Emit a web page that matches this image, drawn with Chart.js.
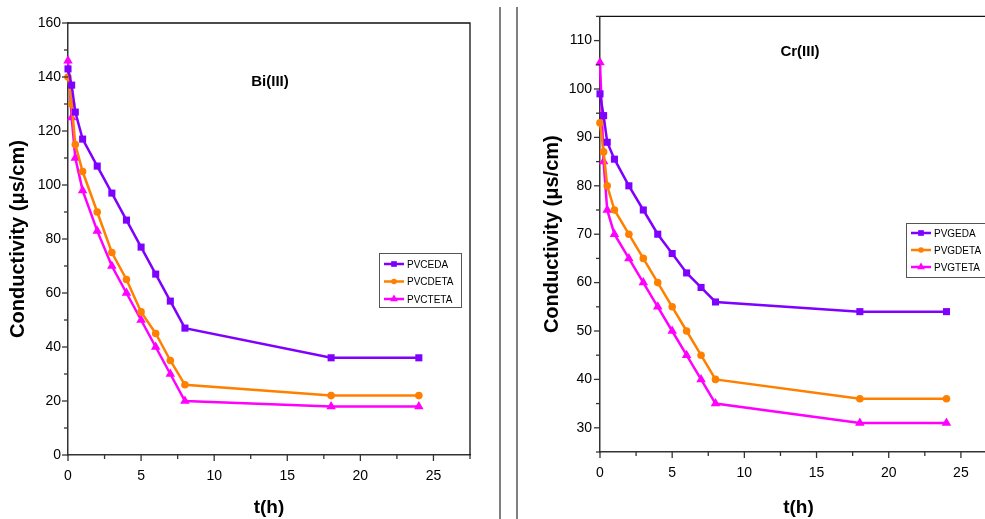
<!DOCTYPE html>
<html>
<head>
<meta charset="utf-8">
<script src="https://cdn.jsdelivr.net/npm/chart.js@4.4.0/dist/chart.umd.min.js"></script>
<style>
  html, body { margin: 0; padding: 0; background: #fff; overflow: hidden; }
  body { width: 985px; height: 519px; position: relative; }
  canvas { position: absolute; top: 0; }
  #left { left: 0; }
  #right { left: 520px; }
  .sep { position: absolute; top: 7px; width: 2px; height: 512px; background: #808080; }
</style>
</head>
<body>
<canvas id="left" width="495" height="519"></canvas>
<canvas id="right" width="490" height="519"></canvas>
<div class="sep" style="left:499px"></div>
<div class="sep" style="left:516px"></div>
<script>
// time points (h)
const tHours = [0, 0.25, 0.5, 1, 2, 3, 4, 5, 6, 7, 8, 18, 24];

// Bi(III) conductivity (µs/cm)
const biEDA  = [143, 137, 127, 117, 107, 97, 87, 77, 67, 57, 47, 36, 36];
const biDETA = [140, 130, 115, 105, 90, 75, 65, 53, 45, 35, 26, 22, 22];
const biTETA = [146, 125, 110, 98, 83, 70, 60, 50, 40, 30, 20, 18, 18];

// Cr(III) conductivity (µs/cm)
const crEDA  = [99, 94.5, 89, 85.5, 80, 75, 70, 66, 62, 59, 56, 54, 54];
const crDETA = [93, 87, 80, 75, 70, 65, 60, 55, 50, 45, 40, 36, 36];
const crTETA = [105.5, 85, 75, 70, 65, 60, 55, 50, 45, 40, 35, 31, 31];

const biLabels = ['PVCEDA', 'PVCDETA', 'PVCTETA'];
const crLabels = ['PVGEDA', 'PVGDETA', 'PVGTETA'];

const PURPLE = '#7f00ff';
const ORANGE = '#ff8000';
const MAGENTA = '#ff00ff';

function pts(ys) {
  return tHours.map((t, i) => ({ x: t, y: ys[i] }));
}

function series(label, ys, color, style, radius) {
  return {
    label: label,
    data: pts(ys),
    borderColor: color,
    backgroundColor: color,
    borderWidth: 2.5,
    pointStyle: style,
    pointRadius: radius,
    pointBorderWidth: 0,
    pointHoverRadius: radius,
    showLine: true,
    tension: 0,
    clip: false
  };
}

// outward major / minor ticks, frame, in-plot title and legend
const decor = {
  id: 'decor',
  afterDraw(chart, args, opts) {
    const ctx = chart.ctx;
    const a = chart.chartArea;
    ctx.save();
    ctx.strokeStyle = '#333';
    ctx.lineWidth = 1.3;
    const xs = chart.scales.x, ys = chart.scales.y;
    xs.ticks.forEach(t => {
      const px = xs.getPixelForValue(t.value);
      const major = Math.abs(t.value % opts.xMajor) < 1e-6;
      ctx.beginPath();
      ctx.moveTo(px, a.bottom);
      ctx.lineTo(px, a.bottom + (major ? 6 : 4));
      ctx.stroke();
    });
    ys.ticks.forEach(t => {
      const py = ys.getPixelForValue(t.value);
      const major = Math.abs(t.value % opts.yMajor) < 1e-6;
      ctx.beginPath();
      ctx.moveTo(a.left, py);
      ctx.lineTo(a.left - (major ? 6 : 4), py);
      ctx.stroke();
    });
    // frame top and right
    ctx.strokeStyle = '#111';
    ctx.beginPath();
    ctx.moveTo(a.left, a.top);
    ctx.lineTo(a.right, a.top);
    ctx.lineTo(a.right, a.bottom);
    ctx.stroke();

    // title inside plot
    ctx.fillStyle = '#000';
    ctx.font = 'bold 15px "Liberation Sans", Arial, sans-serif';
    ctx.textAlign = 'center';
    ctx.textBaseline = 'middle';
    ctx.fillText(opts.title, opts.titleX, opts.titleY);

    // legend
    const L = opts.legend;
    ctx.strokeStyle = '#555';
    ctx.lineWidth = 1;
    ctx.strokeRect(L.x + 0.5, L.y + 0.5, L.w, L.h);
    ctx.font = '10px "Liberation Sans", Arial, sans-serif';
    ctx.textAlign = 'left';
    chart.data.datasets.forEach((ds, i) => {
      const y = L.y + L.first + i * L.gap;
      ctx.strokeStyle = ds.borderColor;
      ctx.lineWidth = 2.5;
      ctx.beginPath();
      ctx.moveTo(L.x + 5, y);
      ctx.lineTo(L.x + 25, y);
      ctx.stroke();
      ctx.fillStyle = ds.backgroundColor;
      ctx.strokeStyle = ds.borderColor;
      Chart.helpers.drawPoint(ctx, { pointStyle: ds.pointStyle, radius: ds.pointRadius - 1, borderWidth: 0, rotation: 0 }, L.x + 15, y);
      ctx.fillStyle = '#000';
      ctx.fillText(ds.label, L.x + 28, y + 1);
    });
    ctx.restore();
  }
};

function makeChart(id, cfg) {
  return new Chart(document.getElementById(id), {
    type: 'scatter',
    data: {
      datasets: [
        series(cfg.labels[0], cfg.eda, PURPLE, 'rect', 5),
        series(cfg.labels[1], cfg.deta, ORANGE, 'circle', 3.8),
        series(cfg.labels[2], cfg.teta, MAGENTA, 'triangle', 5.5)
      ]
    },
    options: {
      responsive: false,
      animation: false,
      events: [],
      layout: { padding: cfg.padding },
      scales: {
        x: {
          type: 'linear',
          min: 0,
          max: 27.5,
          afterFit: s => { s.height = cfg.xHeight; },
          grid: { display: false, drawTicks: false },
          border: { display: true, color: '#333', width: 1.5 },
          ticks: {
            stepSize: 2.5,
            autoSkip: false,
            maxRotation: 0,
            padding: 13,
            color: '#000',
            font: { family: '"Liberation Sans", Arial, sans-serif', size: 14 },
            callback: v => (v % 5 === 0 ? v : '')
          },
          title: {
            display: true,
            text: 't(h)',
            color: '#000',
            padding: { top: 0, bottom: 0 },
            font: { family: '"Liberation Sans", Arial, sans-serif', size: 19, weight: 'bold' }
          }
        },
        y: {
          min: cfg.yMin,
          max: cfg.yMax,
          afterFit: s => { s.width = cfg.yWidth; },
          grid: { display: false, drawTicks: false },
          border: { display: true, color: '#333', width: 1.5 },
          ticks: {
            stepSize: cfg.yStep,
            autoSkip: false,
            padding: cfg.yPad,
            color: '#000',
            font: { family: '"Liberation Sans", Arial, sans-serif', size: 14 },
            callback: v => (v % cfg.yMajor === 0 ? v : '')
          },
          title: {
            display: true,
            text: 'Conductivity (\u03bcs/cm)',
            color: '#000',
            padding: { top: cfg.yTitlePad, bottom: 0 },
            font: { family: '"Liberation Sans", Arial, sans-serif', size: 20, weight: 'bold' }
          }
        }
      },
      plugins: {
        legend: { display: false },
        tooltip: { enabled: false },
        decor: {
          xMajor: 5,
          yMajor: cfg.yMajor,
          title: cfg.title,
          titleX: cfg.titleX,
          titleY: cfg.titleY,
          legend: cfg.legend
        }
      }
    },
    plugins: [decor]
  });
}

makeChart('left', {
  labels: biLabels, eda: biEDA, deta: biDETA, teta: biTETA,
  padding: { left: 0, top: 23, right: 25, bottom: 0 },
  xHeight: 64, yWidth: 68, yPad: 7, yTitlePad: 6,
  yMin: 0, yMax: 160, yStep: 10, yMajor: 20,
  title: 'Bi(III)', titleX: 270, titleY: 82,
  legend: { x: 379, y: 253, w: 82, h: 54, first: 11, gap: 17.5 }
});

makeChart('right', {
  labels: crLabels, eda: crEDA, deta: crDETA, teta: crTETA,
  padding: { left: 0, top: 11, right: 13, bottom: 0 },
  xHeight: 67, yWidth: 80, yPad: 8, yTitlePad: 20,
  yMin: 25, yMax: 115, yStep: 5, yMajor: 10,
  title: 'Cr(III)', titleX: 280, titleY: 52,
  legend: { x: 386, y: 223, w: 90, h: 54, first: 10, gap: 17 }
});
</script>
</body>
</html>
